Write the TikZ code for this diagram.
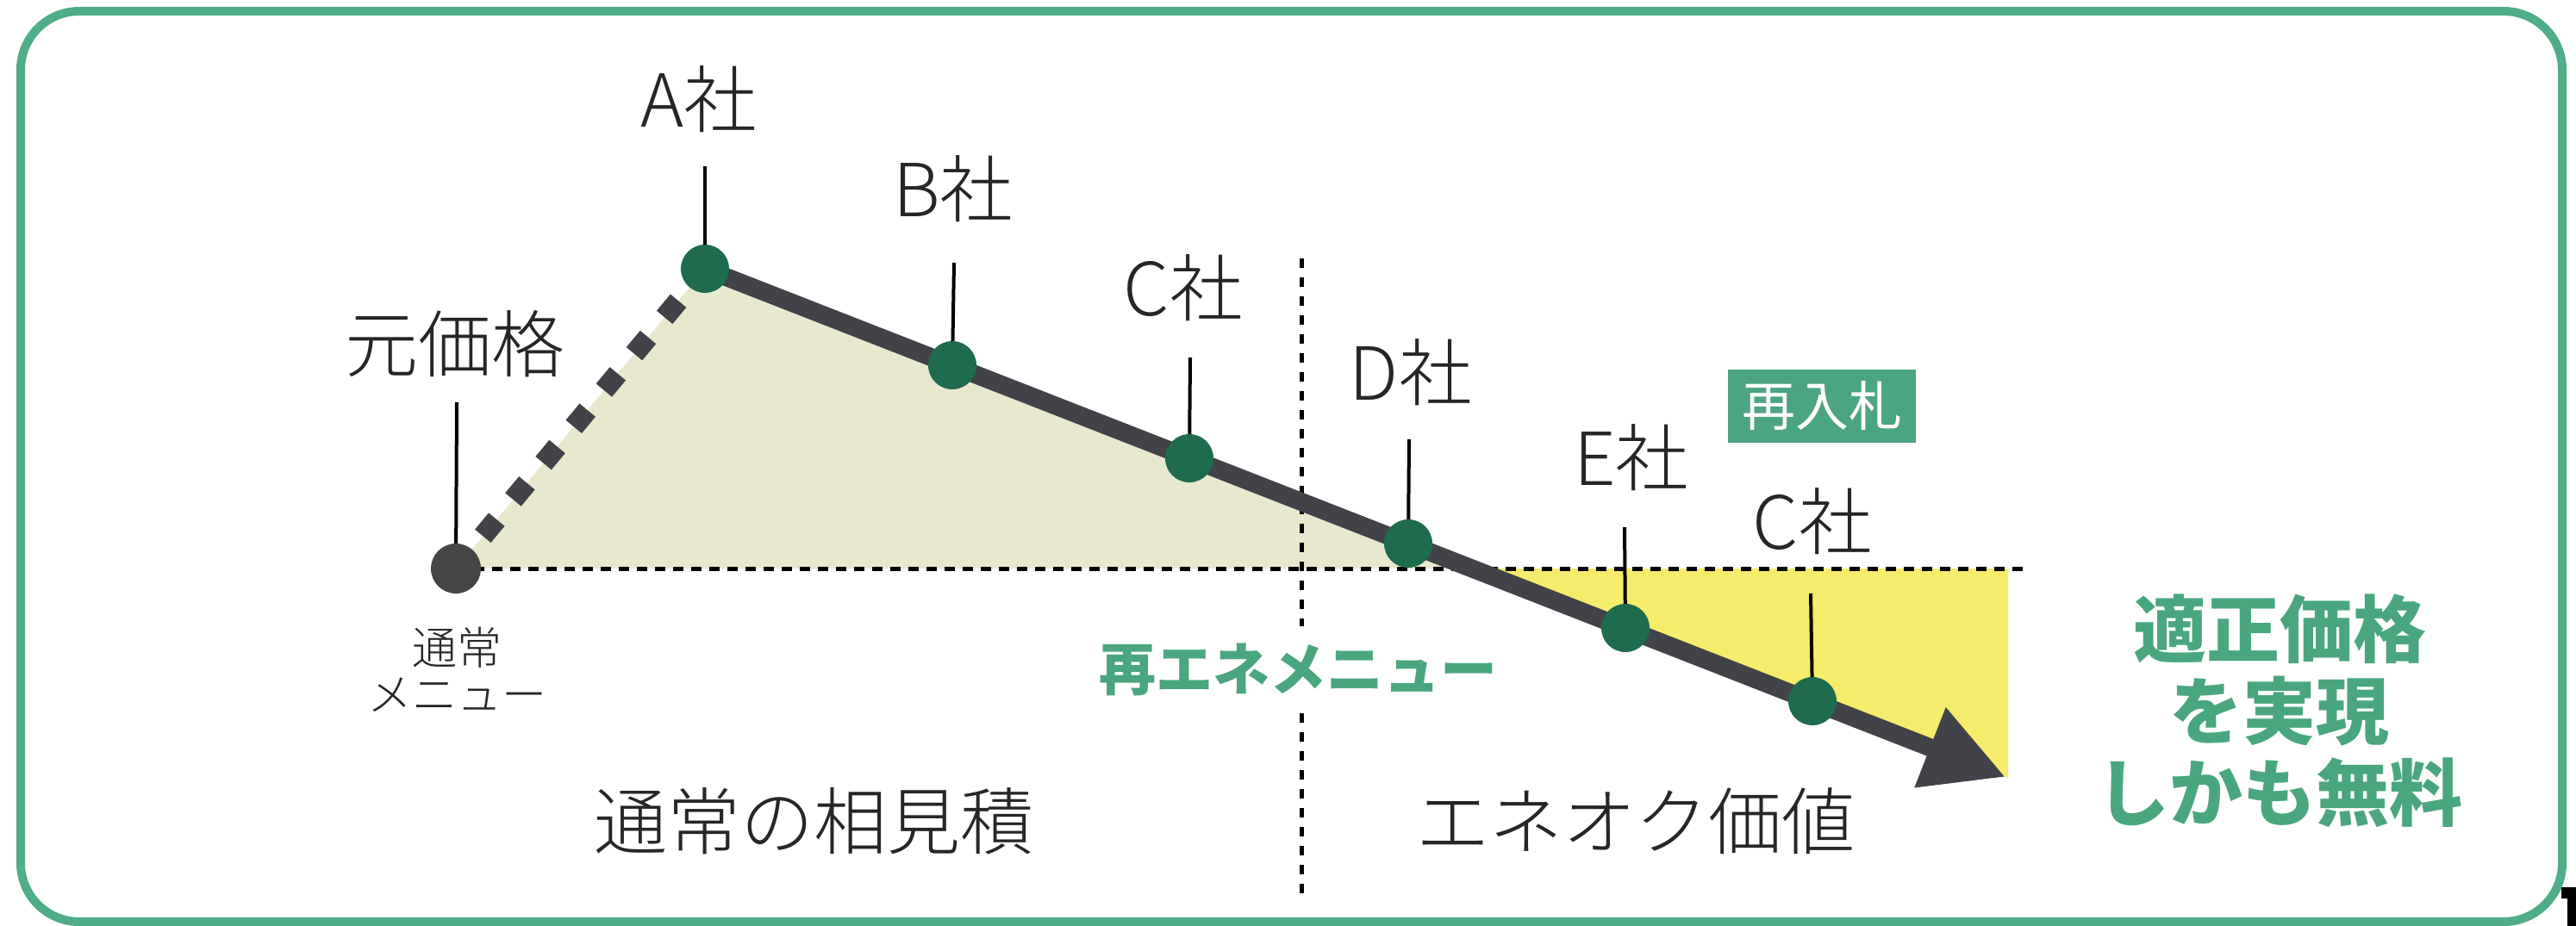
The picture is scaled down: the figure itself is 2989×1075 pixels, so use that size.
\documentclass[tikz,border=0pt]{standalone}
\usepackage{fontspec}
\setmainfont{Noto Sans CJK JP}
\newfontfamily\lightjp{Noto Sans CJK JP Light}
\usetikzlibrary{arrows.meta}
\definecolor{framegreen}{HTML}{4FAD88}
\definecolor{txtgreen}{HTML}{4AA67F}
\definecolor{boxgreen}{HTML}{4CA582}
\definecolor{dotgreen}{HTML}{1F6B4D}
\definecolor{linegray}{HTML}{414348}
\definecolor{origindot}{HTML}{454545}
\definecolor{beigefill}{HTML}{E8E8CF}
\definecolor{yellowfill}{HTML}{F6EC6C}
\definecolor{labelgray}{HTML}{262626}
\pgfdeclarelayer{fills}
\pgfdeclarelayer{lines}
\pgfsetlayers{fills,lines,main}
\begin{document}
\begin{tikzpicture}[x=1pt,y=-1pt,
  lbl/.style={text=labelgray, font=\lightjp\fontsize{85}{95}\selectfont, inner sep=0pt},
  smalllbl/.style={text=labelgray, font=\lightjp\fontsize{52}{54}\selectfont, inner sep=0pt, align=center},
  greentext/.style={text=txtgreen, font=\bfseries\fontsize{66}{70}\selectfont, fill=white, inner xsep=4pt, inner ysep=20pt},
  bigtext/.style={text=txtgreen, font=\bfseries\fontsize{85}{95}\selectfont, inner sep=0pt, align=center},
  bidbox/.style={fill=boxgreen, text=white, font=\fontsize{62}{64}\selectfont, minimum width=218pt, minimum height=85pt, inner sep=0pt},
  tickline/.style={draw=black, line width=4pt},
  gdot/.style={circle, fill=dotgreen, minimum size=56pt, inner sep=0pt},
  odot/.style={circle, fill=origindot, minimum size=58pt, inner sep=0pt},
  thinrule/.style={draw=black, line width=5pt, dash pattern=on 12pt off 9pt},
  vrule/.style={draw=black, line width=5pt, dash pattern=on 11pt off 11pt},
  bigline/.style={draw=linegray, line width=21pt}
]
\useasboundingbox (0,0) rectangle (2989,1075);
% frame
\draw[framegreen, line width=10pt, rounded corners=68pt] (24,13) rectangle (2973,1070);
\fill[black] (2972,1030) -- (2989,1030) -- (2989,1075) -- (2979,1075) -- (2979,1043) -- (2972,1043) -- cycle;

% dots
\node[odot] (dO) at (529,660) {};
\node[gdot] (dA) at (818,312) {};
\node[gdot] (dB) at (1105,424) {};
\node[gdot] (dC) at (1380,532) {};
\node[gdot] (dD) at (1634,631) {};
\node[gdot] (dE) at (1886,729) {};
\node[gdot] (dC2) at (2103,814) {};

\coordinate (tip) at (2327,902);
\coordinate (cross) at (1708,660);
\coordinate (yr) at (2330,660);
\coordinate (yb) at (2330,903);
\coordinate (bend) at (2355,660);
\coordinate (vtop) at (1510,300);
\coordinate (vbot) at (1510,1043);

\coordinate (tO) at (530,467);
\coordinate (tA) at (818,193);
\coordinate (tB) at (1107,305);
\coordinate (tC) at (1381,415);
\coordinate (tD) at (1635,510);
\coordinate (tE) at (1885,612);
\coordinate (tC2) at (2101,689);

\begin{pgfonlayer}{fills}
  \fill[beigefill] (dO.center) -- (dA.center) -- (cross) -- cycle;
  \fill[yellowfill] (cross) -- (yr) -- (yb) -- cycle;
\end{pgfonlayer}

\begin{pgfonlayer}{lines}
  \draw[thinrule] (dO.center) -- (bend);
  \draw[vrule] (vtop) -- (vbot);
  \draw[bigline, line width=24pt, dash pattern=on 25pt off 30pt, dash phase=6pt] (dO.center) -- (dA.center);
  \draw[bigline, -{Triangle[length=94pt,width=94pt]}] (dA.center) -- (tip);
\end{pgfonlayer}

% ticks
\draw[tickline] (tO) -- (dO);
\draw[tickline] (tA) -- (dA);
\draw[tickline] (tB) -- (dB);
\draw[tickline] (tC) -- (dC);
\draw[tickline] (tD) -- (dD);
\draw[tickline] (tE) -- (dE);
\draw[tickline] (tC2) -- (dC2);

% labels
\node[lbl] (lA) at (811,115) {A社};
\node[lbl] (lB) at (1106,219) {B社};
\node[lbl] (lC) at (1373,334) {C社};
\node[lbl] (lD) at (1637,432) {D社};
\node[lbl] (lE) at (1893,531) {E社};
\node[lbl] (lC2) at (2103,605) {C社};
\node[lbl] (lMoto) at (528,399) {元価格};
\node[smalllbl] (lNorm) at (530,777) {通常\\メニュー};
\node[lbl] (lAimi) at (944,953) {通常の相見積};
\node[lbl] (lEneok) at (1898,953) {エネオク価値};
\node[greentext] (lRe) at (1506,777) {再エネメニュー};
\node[bidbox] (lRebid) at (2114,471.5) {再入札};
\node[bigtext] (lRes) at (2645,825) {適正価格\\を実現\\しかも無料};
\end{tikzpicture}
\end{document}
